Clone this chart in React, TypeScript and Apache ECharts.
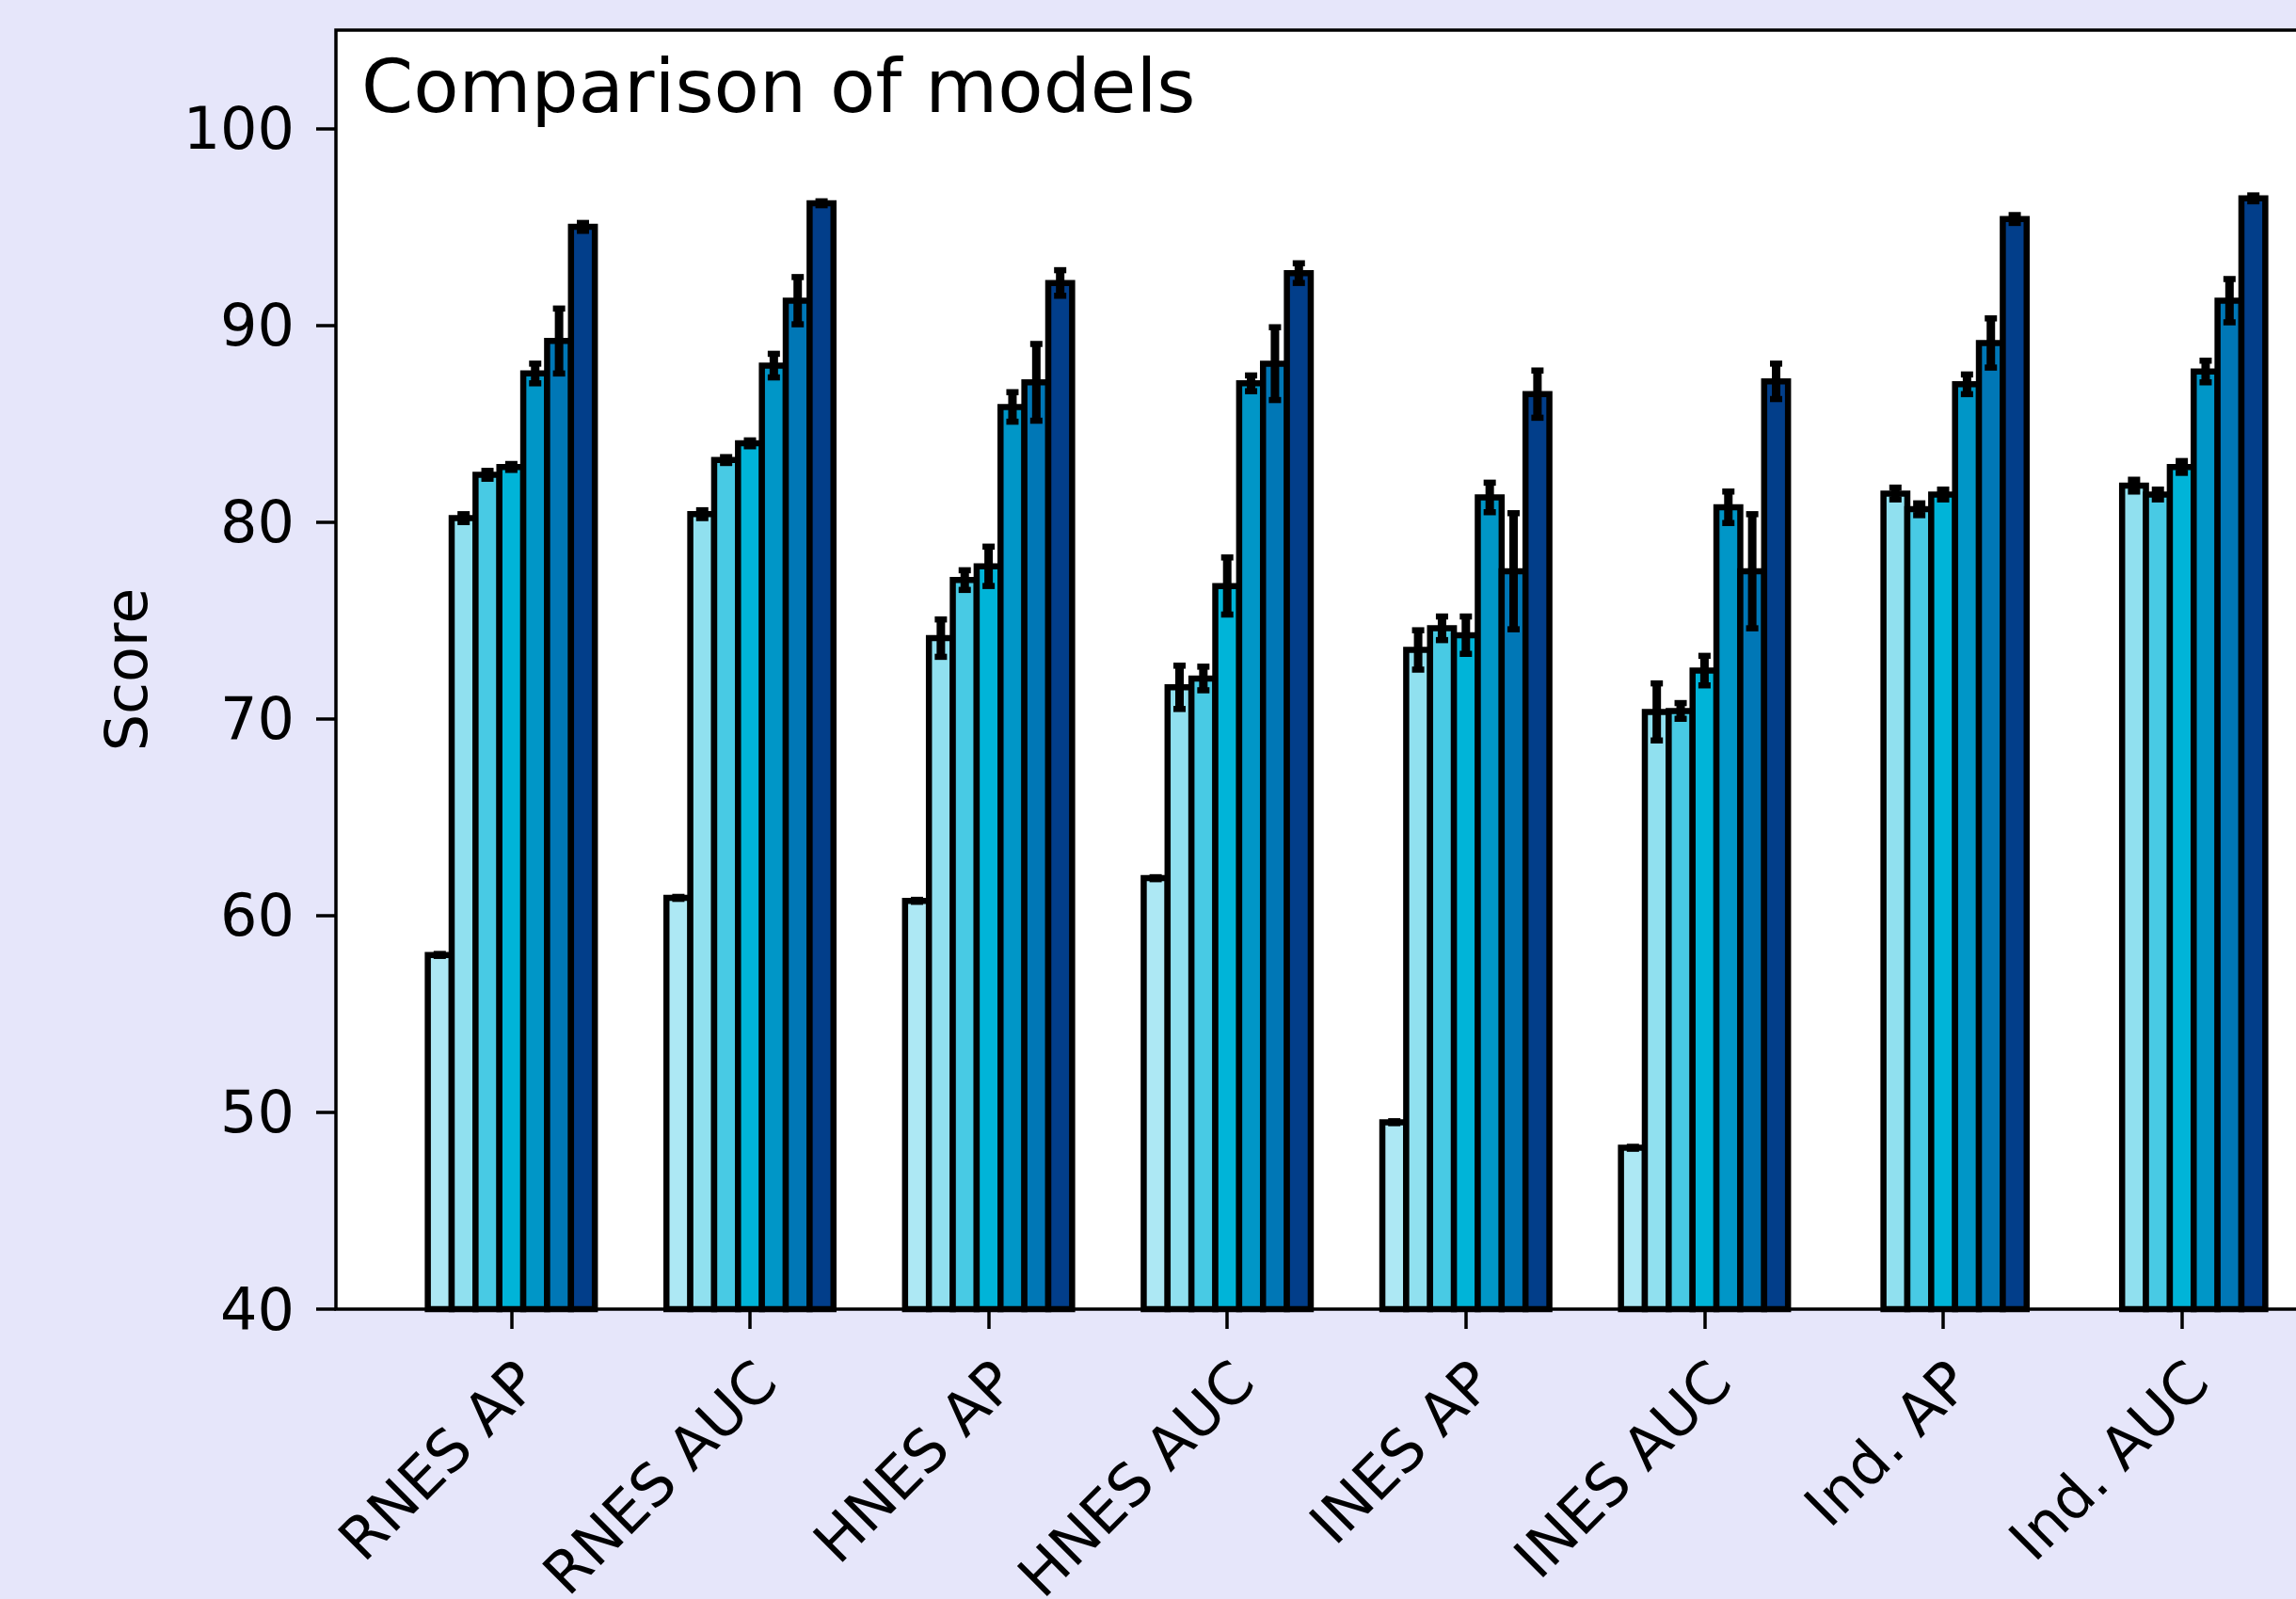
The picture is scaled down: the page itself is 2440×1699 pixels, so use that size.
import React, { useEffect, useRef } from "react";
import * as echarts from "echarts";

const categories = ["RNES AP", "RNES AUC", "HNES AP", "HNES AUC", "INES AP", "INES AUC", "Ind. AP", "Ind. AUC"];
const seriesNames = ["Model 1", "Model 2", "Model 3", "Model 4", "Model 5", "Model 6", "Model 7"];
const barColors = ["#ADE8F4", "#90E0EF", "#48CAE4", "#00B4D8", "#0096C7", "#0077B6", "#023E8A"];

const model1 = [58.0, 60.9, 60.75, 61.9, 49.5, 48.2, null, null];
const model1Err = [0.05, 0.05, 0.05, 0.05, 0.05, 0.05, 0, 0];
const model2 = [80.2, 80.4, 74.1, 71.6, 73.5, 70.35, 81.45, 81.85];
const model2Err = [0.2, 0.2, 0.95, 1.1, 1.0, 1.45, 0.3, 0.3];
const model3 = [82.4, 83.15, 77.05, 72.05, 74.6, 70.4, 80.65, 81.4];
const model3Err = [0.2, 0.15, 0.5, 0.6, 0.6, 0.4, 0.3, 0.25];
const model4 = [82.8, 84.0, 77.75, 76.75, 74.25, 72.45, 81.4, 82.8];
const model4Err = [0.15, 0.15, 1.0, 1.45, 0.95, 0.75, 0.25, 0.3];
const model5 = [87.55, 87.95, 85.85, 87.05, 81.25, 80.75, 87.0, 87.65];
const model5Err = [0.5, 0.6, 0.75, 0.4, 0.75, 0.8, 0.5, 0.55];
const model6 = [89.2, 91.25, 87.1, 88.05, 77.5, 77.5, 89.1, 91.25];
const model6Err = [1.65, 1.2, 1.95, 1.85, 2.95, 2.9, 1.25, 1.1];
const model7 = [95.0, 96.2, 92.15, 92.65, 86.5, 87.15, 95.4, 96.45];
const model7Err = [0.2, 0.1, 0.65, 0.5, 1.2, 0.9, 0.2, 0.15];

const yTicks = [40, 50, 60, 70, 80, 90, 100];
const xTicks = [0, 1, 2, 3, 4, 5, 6, 7];

const allValues = [model1, model2, model3, model4, model5, model6, model7];
const allErrors = [model1Err, model2Err, model3Err, model4Err, model5Err, model6Err, model7Err];

const BAR_W = 0.1;
const Y_MIN = 40;
const Y_MAX = 105;
const X_MIN = -0.735;
const X_MAX = 7.735;

export default function App() {
  const ref = useRef<HTMLDivElement>(null);

  useEffect(() => {
    if (!ref.current) return;
    const chart = echarts.init(ref.current, null, { renderer: "svg" });
    const font = "DejaVu Sans";
    const n = allValues.length;

    const series = allValues.map((vals, j) => {
      const offset = (j - (n - 1) / 2) * BAR_W;
      const data: any[] = [];
      vals.forEach((v, i) => {
        if (v != null) data.push([i, v, allErrors[j][i]]);
      });
      return {
        type: "custom",
        name: seriesNames[j],
        encode: { x: 0, y: 1 },
        clip: false,
        data,
        renderItem: (params: any, api: any) => {
          const cat = api.value(0);
          const val = api.value(1);
          const err = api.value(2);
          const x = cat + offset;
          const top = api.coord([x, val]);
          const base = api.coord([x, Y_MIN]);
          const hi = api.coord([x, val + err]);
          const lo = api.coord([x, val - err]);
          const w = api.size([BAR_W, 0])[0];
          const capHalf = 6.5;
          return {
            type: "group",
            children: [
              {
                type: "rect",
                shape: { x: top[0] - w / 2, y: top[1], width: w, height: base[1] - top[1] },
                style: { fill: barColors[j], stroke: "#000", lineWidth: 6.5 },
              },
              {
                type: "line",
                shape: { x1: top[0], y1: hi[1], x2: top[0], y2: lo[1] },
                style: { stroke: "#000", lineWidth: 9 },
              },
              {
                type: "line",
                shape: { x1: top[0] - capHalf, y1: hi[1], x2: top[0] + capHalf, y2: hi[1] },
                style: { stroke: "#000", lineWidth: 6.5 },
              },
              {
                type: "line",
                shape: { x1: top[0] - capHalf, y1: lo[1], x2: top[0] + capHalf, y2: lo[1] },
                style: { stroke: "#000", lineWidth: 6.5 },
              },
            ],
          };
        },
      };
    });

    chart.setOption({
      animation: false,
      backgroundColor: "#E6E6FA",
      title: {
        text: "Comparison of models",
        left: 384,
        top: 52,
        padding: 0,
        textStyle: { fontFamily: font, fontSize: 79, fontWeight: "normal", color: "#000" },
      },
      grid: {
        left: 357,
        top: 32,
        width: 2148,
        height: 1359,
        show: true,
        backgroundColor: "#fff",
        borderColor: "#000",
        borderWidth: 3.5,
        containLabel: false,
        outerBoundsMode: "none",
      },
      xAxis: {
        type: "value",
        min: X_MIN,
        max: X_MAX,
        axisLine: { show: false, onZero: false },
        splitLine: { show: false },
        axisTick: {
          show: true,
          customValues: xTicks,
          length: 21,
          lineStyle: { color: "#000", width: 3.5 },
        },
        axisLabel: {
          customValues: xTicks,
          formatter: (v: number) => categories[Math.round(v)] ?? "",
          rotate: 45,
          margin: 127,
          verticalAlign: "bottom",
          padding: [0, -55, 0, 0],
          fontFamily: font,
          fontSize: 62,
          color: "#000",
        },
      },
      yAxis: {
        type: "value",
        min: Y_MIN,
        max: Y_MAX,
        interval: 10,
        name: "Score",
        nameLocation: "middle",
        nameRotate: 90,
        nameGap: 192,
        nameTextStyle: { fontFamily: font, fontSize: 62, color: "#000" },
        axisLine: { show: false, onZero: false },
        splitLine: { show: false },
        axisTick: {
          show: true,
          customValues: yTicks,
          length: 21,
          lineStyle: { color: "#000", width: 3.5 },
        },
        axisLabel: {
          customValues: yTicks,
          margin: 44,
          fontFamily: font,
          fontSize: 62,
          color: "#000",
        },
      },
      series,
    });

    return () => chart.dispose();
  }, []);

  return (
    <div
      style={{
        position: "fixed",
        left: 0,
        top: 0,
        width: 2440,
        height: 1699,
        overflow: "hidden",
        background: "#E6E6FA",
      }}
    >
      <div ref={ref} style={{ width: 2600, height: 1699 }} />
    </div>
  );
}
